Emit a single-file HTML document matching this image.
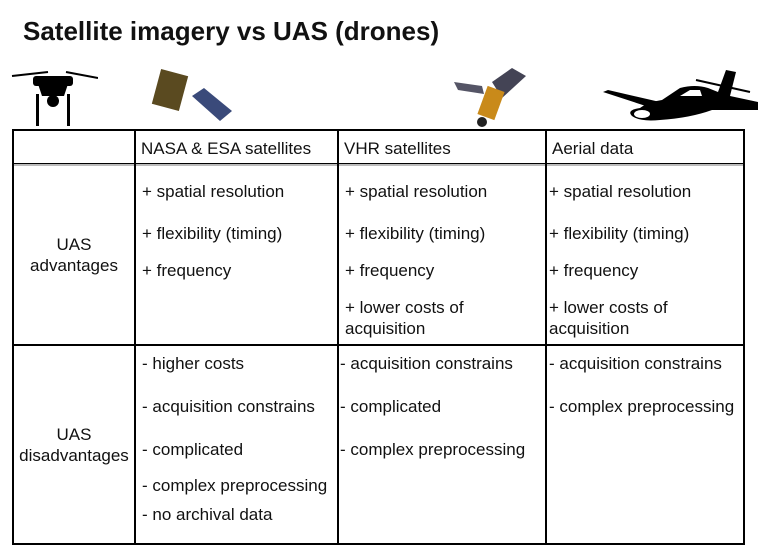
<!DOCTYPE html>
<html><head><style>
body{margin:0;width:759px;height:557px;background:#fff;position:relative;font-family:"Liberation Sans",Arial,sans-serif;overflow:hidden}
.t{position:absolute;font-size:17px;color:#111;white-space:nowrap;line-height:21px}
.l{position:absolute;background:#000}
</style></head><body>
<div class="t" style="left:23px;top:15px;font-size:26px;font-weight:bold;line-height:32px">Satellite imagery vs UAS (drones)</div>

<svg style="position:absolute;left:8px;top:66px" width="90" height="60" viewBox="0 0 90 60">
<line x1="4" y1="10" x2="40" y2="6" stroke="#000" stroke-width="2"/>
<line x1="58" y1="6" x2="90" y2="12" stroke="#000" stroke-width="2"/>
<rect x="25" y="10" width="40" height="10" rx="3"/>
<path d="M30 18 L60 18 L56 30 L34 30Z"/>
<rect x="28" y="28" width="3" height="32"/><rect x="59" y="28" width="3" height="32"/>
<circle cx="45" cy="35" r="6"/>
</svg>
<svg style="position:absolute;left:150px;top:66px" width="95" height="60" viewBox="0 0 95 60">
<rect x="6" y="6" width="28" height="36" fill="#5a4a20" transform="rotate(15 20 24)"/>
<polygon points="42,30 70,55 82,45 54,22" fill="#3a4a7a"/>
</svg>
<svg style="position:absolute;left:452px;top:64px" width="80" height="66" viewBox="0 0 80 66">
<polygon points="2,18 30,22 32,30 6,26" fill="#556"/>
<polygon points="40,18 60,4 74,12 50,34" fill="#445"/>
<rect x="30" y="24" width="18" height="30" fill="#c98a1a" transform="rotate(20 39 39)"/>
<circle cx="30" cy="58" r="5" fill="#222"/>
</svg>
<svg style="position:absolute;left:600px;top:66px" width="160" height="60" viewBox="0 0 160 60">
<polygon points="3,26 8,24 60,36 52,42" fill="#000"/>
<path d="M4 30 L40 42 Q48 36 62 34 L80 22 Q95 18 108 22 L118 26 L126 4 L136 6 L130 30 L158 36 L158 44 L112 44 Q90 52 60 54 Q40 56 32 50 Q26 44 40 42 Z" fill="#000"/>
<path d="M80 30 L90 24 L100 24 L102 30 Z" fill="#fff"/>
<ellipse cx="42" cy="48" rx="8" ry="4" fill="#fff"/>
<line x1="96" y1="14" x2="150" y2="26" stroke="#000" stroke-width="2"/>
</svg>

<div class="l" style="left:12px;top:129px;width:733px;height:2px"></div>
<div class="l" style="left:12px;top:163px;width:733px;height:1px"></div>
<div style="position:absolute;left:12px;top:164px;width:733px;height:2px;background:#bbb"></div>
<div class="l" style="left:12px;top:344px;width:733px;height:2px"></div>
<div class="l" style="left:12px;top:543px;width:733px;height:2px"></div>
<div class="l" style="left:12px;top:129px;width:2px;height:416px"></div>
<div class="l" style="left:134px;top:129px;width:2px;height:416px"></div>
<div class="l" style="left:337px;top:129px;width:2px;height:416px"></div>
<div class="l" style="left:545px;top:129px;width:2px;height:416px"></div>
<div class="l" style="left:743px;top:129px;width:2px;height:416px"></div>

<div class="t" style="left:141px;top:138px">NASA &amp; ESA satellites</div>
<div class="t" style="left:344px;top:138px">VHR satellites</div>
<div class="t" style="left:552px;top:138px">Aerial data</div>

<div class="t" style="left:14px;width:120px;text-align:center;top:234px">UAS<br>advantages</div>
<div class="t" style="left:14px;width:120px;text-align:center;top:424px">UAS<br>disadvantages</div>

<div class="t" style="left:142px;top:181px">+ spatial resolution</div>
<div class="t" style="left:142px;top:223px">+ flexibility (timing)</div>
<div class="t" style="left:142px;top:260px">+ frequency</div>

<div class="t" style="left:345px;top:181px">+ spatial resolution</div>
<div class="t" style="left:345px;top:223px">+ flexibility (timing)</div>
<div class="t" style="left:345px;top:260px">+ frequency</div>
<div class="t" style="left:345px;top:297px">+ lower costs of<br>acquisition</div>

<div class="t" style="left:549px;top:181px">+ spatial resolution</div>
<div class="t" style="left:549px;top:223px">+ flexibility (timing)</div>
<div class="t" style="left:549px;top:260px">+ frequency</div>
<div class="t" style="left:549px;top:297px">+ lower costs of<br>acquisition</div>

<div class="t" style="left:142px;top:353px">- higher costs</div>
<div class="t" style="left:142px;top:396px">- acquisition constrains</div>
<div class="t" style="left:142px;top:439px">- complicated</div>
<div class="t" style="left:142px;top:475px">- complex preprocessing</div>
<div class="t" style="left:142px;top:504px">- no archival data</div>

<div class="t" style="left:340px;top:353px">- acquisition constrains</div>
<div class="t" style="left:340px;top:396px">- complicated</div>
<div class="t" style="left:340px;top:439px">- complex preprocessing</div>

<div class="t" style="left:549px;top:353px">- acquisition constrains</div>
<div class="t" style="left:549px;top:396px">- complex preprocessing</div>
</body></html>
